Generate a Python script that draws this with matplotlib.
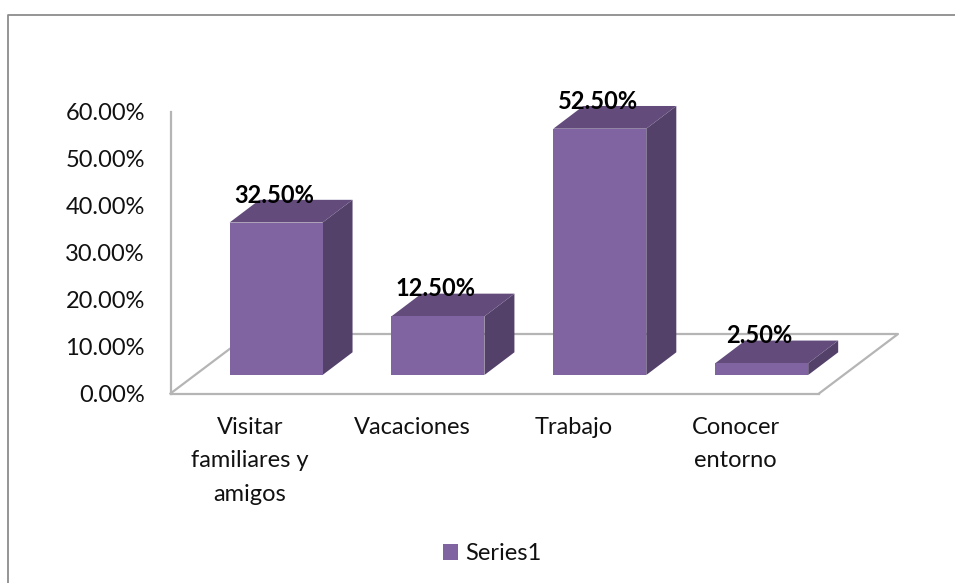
import matplotlib
matplotlib.use("Agg")
import matplotlib.pyplot as plt
from matplotlib.lines import Line2D
from matplotlib.patches import Patch, Polygon

plt.rcParams["font.family"] = ["Lato", "DejaVu Sans"]

categories = ["Visitar\nfamiliares y\namigos", "Vacaciones", "Trabajo", "Conocer\nentorno"]
values = [32.5, 12.5, 52.5, 2.5]
y_ticks = [0, 10, 20, 30, 40, 50, 60]
series_name = "Series1"

FRONT = "#8064a2"
TOP = "#634c7c"
SIDE = "#534169"
GRID = "#b5b5b5"
TEXT = "#111111"
FS = 17

W, H = 955, 583
fig = plt.figure(figsize=(W / 100, H / 100), dpi=100)

# outer chart frame, only left and top show in the original
frame_x = [7.5 / W, 7.5 / W, 1]
frame_y = [0, 1 - 15 / H, 1 - 15 / H]
fig.add_artist(Line2D(frame_x, frame_y, color="#8c8c8c", lw=1.3))

ax = fig.add_axes([170.5 / W, 1 - 393.5 / H, (819 - 170.5) / W, 281.5 / H])
ax.set_xlim(-0.652, 3.354)
ax.set_ylim(0, 60)
ax.patch.set_visible(False)

for s in ["top", "right"]:
    ax.spines[s].set_visible(False)
for s in ["left", "bottom"]:
    ax.spines[s].set_color(GRID)
    ax.spines[s].set_linewidth(1.6)

ax.set_yticks(y_ticks)
ax.set_yticklabels(["%.2f%%" % v for v in y_ticks], fontsize=FS, color=TEXT)
ax.tick_params(axis="y", length=0, pad=18.5)
ax.set_xticks([])

# depth of the fake 3d look, in data units
px_x = 161.9
px_y = 281.5 / 60
depth_x = 30 / px_x
depth_y = 22.7 / px_y
lift = 18.5 / px_y
width = 93 / px_x

# floor
floor_dx = 79 / px_x
floor_dy = 59.5 / px_y
xl, xr = ax.get_xlim()
ax.plot([xl, xl + floor_dx, xr + floor_dx, xr], [0, floor_dy, floor_dy, 0],
        color=GRID, lw=1.6, clip_on=False, zorder=1)

for i, v in enumerate(values):
    x0 = i - width / 2
    x1 = i + width / 2
    top = lift + v
    ax.bar(i, v, width=width, bottom=lift, color=FRONT, zorder=3)
    ax.add_patch(Polygon([(x1, lift), (x1 + depth_x, lift + depth_y),
                          (x1 + depth_x, top + depth_y), (x1, top)],
                         facecolor=SIDE, edgecolor="none", zorder=2, clip_on=False))
    ax.add_patch(Polygon([(x0, top), (x0 + depth_x, top + depth_y),
                          (x1 + depth_x, top + depth_y), (x1, top)],
                         facecolor=TOP, edgecolor="none", zorder=2, clip_on=False))
    ax.annotate("%.2f%%" % v, (i, top), xytext=(-2, 27.5), textcoords="offset pixels",
                ha="center", va="center", fontsize=FS, fontweight="bold",
                color="black", zorder=5, annotation_clip=False)
    ax.annotate(categories[i], (i, 0), xytext=(-26, -23), textcoords="offset pixels",
                ha="center", va="top", fontsize=FS, color=TEXT, linespacing=1.74,
                annotation_clip=False)

handle = Patch(facecolor=FRONT, edgecolor="none", label=series_name)
fig.legend(handles=[handle], loc="center", bbox_to_anchor=(492 / W, 1 - 553.5 / H),
           frameon=False, fontsize=FS, handlelength=0.65, handleheight=0.65,
           handletextpad=0.3, labelcolor=TEXT)

fig.savefig("out.png", dpi=100)
